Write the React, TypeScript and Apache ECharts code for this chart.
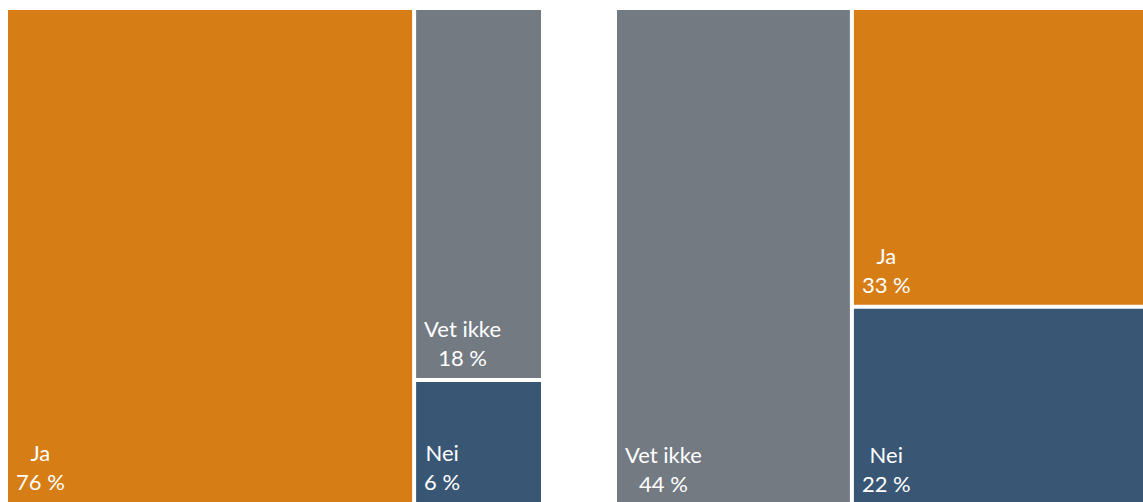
import React, { useEffect, useRef } from 'react';
import * as echarts from 'echarts';

// ---- Data ----
const leftCategories = ['Ja', 'Vet ikke', 'Nei'];
const leftValues = [76, 18, 6];

const rightCategories = ['Vet ikke', 'Ja', 'Nei'];
const rightValues = [44, 33, 22];

const categoryColors: Record<string, string> = {
  Ja: '#D67D15',
  'Vet ikke': '#737A82',
  Nei: '#395674',
};

// ---- Style ----
const FONT_SIZE = 22;
const FONT_FAMILY = 'Lato';
const LINE_HEIGHT = 29;
const LABEL_INSET = 8;

function labelLines(name: string, value: number): string[] {
  return [name, `${value} %`];
}

function measureText(text: string): number {
  const canvas = document.createElement('canvas');
  const ctx = canvas.getContext('2d');
  if (!ctx) return text.length * FONT_SIZE * 0.5;
  ctx.font = `${FONT_SIZE}px ${FONT_FAMILY}`;
  return ctx.measureText(text).width;
}

function buildData(categories: string[], values: number[]) {
  return categories.map((name, i) => {
    const lines = labelLines(name, values[i]);
    const w = Math.max(...lines.map(measureText));
    return {
      name,
      value: values[i],
      itemStyle: { color: categoryColors[name] },
      label: { position: [LABEL_INSET + w / 2, '100%'] },
    };
  });
}

function makeSeries(categories: string[], values: number[], box: { left: number; top: number; width: number; height: number }) {
  return {
    type: 'treemap',
    ...box,
    squareRatio: 0.9,
    sort: 'desc',
    roam: false,
    nodeClick: false,
    silent: true,
    breadcrumb: { show: false },
    itemStyle: { borderWidth: 0, gapWidth: 4 },
    levels: [{ itemStyle: { borderWidth: 0, gapWidth: 4 } }],
    label: {
      show: true,
      formatter: (p: any) => labelLines(p.name, p.value).join('\n'),
      color: '#ffffff',
      fontSize: FONT_SIZE,
      fontFamily: FONT_FAMILY,
      lineHeight: LINE_HEIGHT,
      align: 'center',
      verticalAlign: 'bottom',
      padding: [0, 0, 6, 0],
      overflow: 'none',
    },
    data: buildData(categories, values),
  };
}

export default function App() {
  const ref = useRef<HTMLDivElement>(null);
  useEffect(() => {
    if (!ref.current) return;
    const chart = echarts.init(ref.current, undefined, { renderer: 'svg' });
    chart.setOption({
      animation: false,
      backgroundColor: '#ffffff',
      series: [
        makeSeries(leftCategories, leftValues, { left: 8, top: 10, width: 533, height: 492 }),
        makeSeries(rightCategories, rightValues, { left: 617, top: 10, width: 529, height: 494 }),
      ],
    });
    return () => chart.dispose();
  }, []);
  return (
    <div
      ref={ref}
      style={{ position: 'absolute', left: 0, top: 0, width: 1143, height: 502 }}
    />
  );
}
